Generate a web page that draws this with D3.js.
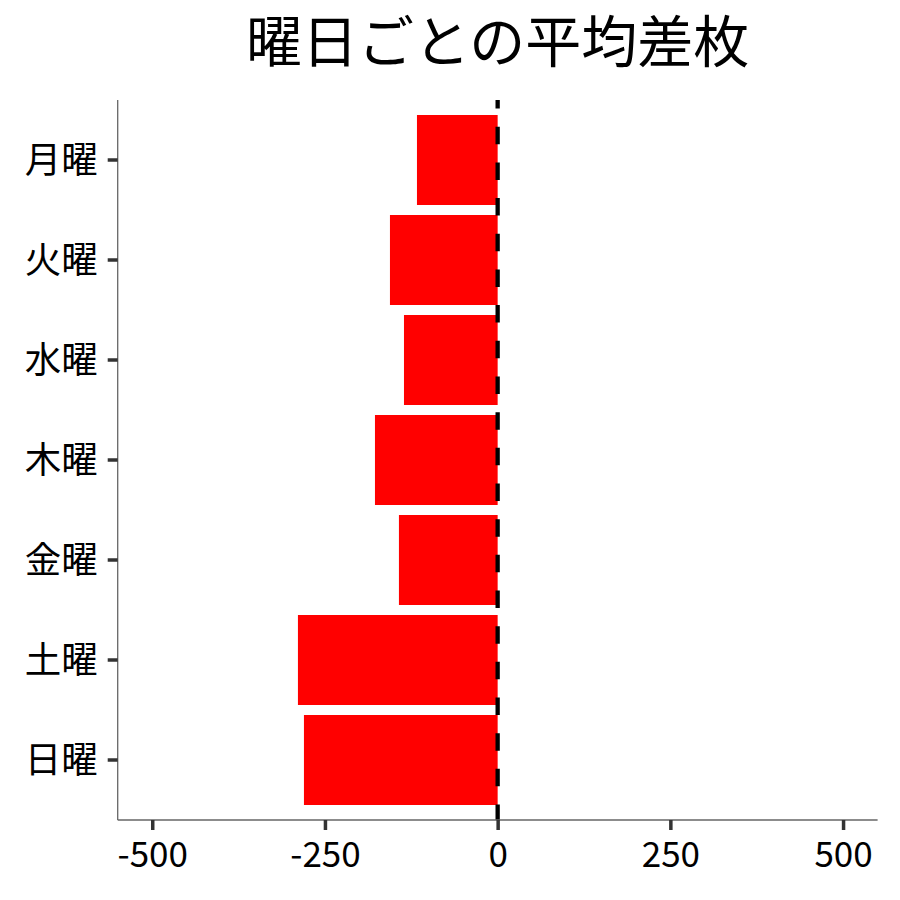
<!DOCTYPE html>
<html>
<head>
<meta charset="utf-8">
<script src="https://cdn.jsdelivr.net/npm/d3@7/dist/d3.min.js"></script>
<style>
  html, body { margin: 0; padding: 0; background: #fff; }
  svg { display: block; font-family: "Noto Sans CJK JP", "Noto Sans", sans-serif; }
</style>
</head>
<body>
<svg id="chart" width="900" height="900"></svg>
<script>
const categories = ["月曜", "火曜", "水曜", "木曜", "金曜", "土曜", "日曜"];
const values = [-116.8, -155.9, -135.6, -177.6, -142.9, -289.1, -280.4];
const xTicks = [-500, -250, 0, 250, 500];
const titleText = "曜日ごとの平均差枚";
const refLine = 0;

const svg = d3.select("#chart");
const pLeft = 117.7, pRight = 877.6, pTop = 100, pBottom = 820;

const x = d3.scaleLinear().domain([-550, 550]).range([pLeft, pRight]);
const y = d3.scaleBand().domain(categories).range([pTop, pBottom])
  .paddingInner(0.1).paddingOuter(0.15);

const data = categories.map((c, i) => ({ cat: c, v: values[i] }));

// bars
svg.append("g").selectAll("rect").data(data).join("rect")
  .attr("x", d => x(Math.min(0, d.v)))
  .attr("width", d => Math.abs(x(d.v) - x(0)))
  .attr("y", d => y(d.cat))
  .attr("height", y.bandwidth())
  .attr("fill", "#ff0000");

// reference dashed line
svg.append("line")
  .attr("x1", x(refLine)).attr("x2", x(refLine))
  .attr("y1", pBottom).attr("y2", pTop)
  .attr("stroke", "#000")
  .attr("stroke-width", 4.3)
  .attr("stroke-dasharray", "17.5 18.17")
  .attr("stroke-dashoffset", 2);

// x axis
const xAxis = svg.append("g").attr("transform", `translate(0,${pBottom})`)
  .call(d3.axisBottom(x).tickValues(xTicks).tickSize(10).tickPadding(6).tickFormat(d => String(d)));
xAxis.select(".domain").attr("stroke", "#666").attr("stroke-width", 1.3)
  .attr("d", `M${pLeft},0H${pRight}`);
xAxis.selectAll(".tick line").attr("stroke", "#333").attr("stroke-width", 3.5);
xAxis.selectAll(".tick text").attr("fill", "#000")
  .style("font-size", "35px").style("font-family", "'Noto Sans CJK JP', sans-serif")
  .attr("dy", null).attr("y", 47);

// y axis
const yAxis = svg.append("g").attr("transform", `translate(${pLeft},0)`)
  .call(d3.axisLeft(y).tickSize(10).tickPadding(10));
yAxis.select(".domain").attr("stroke", "#666").attr("stroke-width", 1.3)
  .attr("d", `M0,${pTop}V${pBottom}`);
yAxis.selectAll(".tick line").attr("stroke", "#333").attr("stroke-width", 3.5);
yAxis.selectAll(".tick text").attr("fill", "#000")
  .style("font-size", "36.5px").style("font-family", "'Noto Sans CJK JP', sans-serif")
  .attr("dy", null).attr("y", -3).attr("dominant-baseline", "central");

// title
svg.append("text")
  .attr("x", (pLeft + pRight) / 2).attr("y", 62)
  .attr("text-anchor", "middle")
  .style("font-size", "56px")
  .attr("fill", "#000")
  .text(titleText);
</script>
</body>
</html>
